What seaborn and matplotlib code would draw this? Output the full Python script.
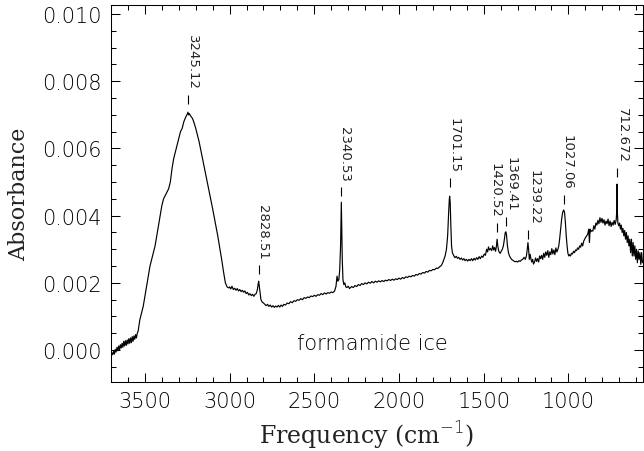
import matplotlib
matplotlib.use("Agg")
import matplotlib.pyplot as plt
import seaborn as sns
import pandas as pd
from matplotlib import font_manager as fm
from matplotlib.ticker import MultipleLocator, FormatStrFormatter

# ---------------- data ----------------
freq = [3700, 3695, 3690, 3685, 3680, 3675, 3670, 3665, 3660, 3655, 3650, 3645, 3640,
        3635, 3630, 3625, 3620, 3615, 3610, 3605, 3600, 3595, 3590, 3585, 3580, 3575,
        3570, 3565, 3560, 3555, 3550, 3545, 3540,
        3530, 3520, 3510, 3500, 3490, 3480, 3470, 3460, 3450, 3440, 3430, 3420, 3410,
        3400, 3390, 3380, 3370, 3360, 3350, 3340, 3330, 3320, 3310, 3300, 3290, 3280,
        3270, 3262, 3255, 3250, 3246, 3242, 3238, 3232, 3226, 3220, 3212, 3200, 3180,
        3160, 3140, 3120, 3100, 3085, 3070, 3060, 3047, 3035, 3025, 3015, 3005,
        3000, 2993, 2986, 2978, 2970, 2962, 2955, 2947, 2940, 2932, 2925, 2917, 2910,
        2902, 2895, 2887, 2880, 2872, 2865, 2857, 2850, 2843, 2836, 2831, 2828.5, 2825,
        2820, 2815, 2808, 2800,
        2792, 2784, 2776, 2768, 2760, 2752, 2744, 2736, 2728, 2720, 2712, 2704, 2696,
        2688, 2680, 2670, 2660, 2650, 2640, 2630, 2620, 2610, 2600, 2590, 2580, 2570,
        2560, 2550, 2540, 2530, 2520, 2510, 2500, 2490, 2480, 2470, 2460, 2450, 2440,
        2430, 2420, 2410, 2400, 2390, 2380, 2372, 2366, 2361, 2355, 2350, 2345, 2342,
        2340.5, 2338, 2335, 2331, 2326, 2320, 2314, 2308, 2300, 2292,
        2280, 2270, 2260, 2250, 2240, 2230, 2220, 2210, 2200, 2190, 2180, 2170, 2160,
        2150, 2140, 2130, 2120, 2110, 2100, 2090, 2080, 2070, 2060, 2050, 2040, 2030,
        2020, 2010, 2000, 1990, 1980, 1970, 1960, 1950, 1940, 1930, 1920, 1910, 1900,
        1890, 1880, 1870, 1860, 1850, 1840, 1830, 1820, 1810, 1800, 1790, 1780, 1770,
        1760, 1750, 1742, 1735, 1728, 1720, 1713, 1707, 1703, 1701, 1698, 1694, 1690,
        1685, 1678, 1670, 1662, 1655, 1648, 1640, 1632, 1625, 1617, 1610, 1602, 1595,
        1587, 1580, 1572, 1565, 1557, 1550, 1542, 1535, 1527, 1520, 1512, 1505, 1497,
        1490, 1483, 1477, 1472, 1466, 1460, 1453, 1447, 1441, 1436, 1430, 1425, 1421,
        1417, 1412, 1407, 1402, 1396, 1390, 1384, 1378, 1373, 1369, 1365, 1360, 1354,
        1348, 1342, 1336, 1330, 1322, 1315, 1308, 1300, 1292, 1285, 1278, 1270, 1262,
        1255, 1248, 1243, 1239, 1235, 1231, 1226, 1221, 1216, 1211, 1206, 1200, 1194,
        1188, 1182, 1176, 1170, 1164, 1158, 1152, 1146, 1140, 1134, 1128, 1122, 1116,
        1110, 1104, 1098, 1092, 1086, 1080, 1074, 1068, 1062, 1057, 1052, 1046, 1040,
        1034, 1028, 1023, 1018, 1013, 1008, 1003, 998, 993, 988, 982, 976, 970, 964,
        958, 952, 946, 940, 934, 928, 922, 916, 910, 904, 898, 892, 886, 880, 876,
        872, 868, 862, 856, 850, 844, 838, 832, 826, 820, 814, 808, 802, 796, 790,
        784, 778, 772, 766, 760, 754, 748, 742, 736, 730, 724, 718, 714, 712.7, 711,
        708, 703, 698, 693, 688, 683, 678, 673, 668, 663, 658, 653, 648, 643, 638,
        633, 628, 623, 618, 613, 608, 603, 598, 593, 588, 583, 578, 573, 568, 563, 560]

absorb = [-0.00018, -0.00008, -0.00014, -0.00004, -0.00012, 0.00002, -0.00006, 0.00008,
          -0.00002, 0.00012, 0.00000, 0.00016, 0.00006, 0.00020, 0.00008, 0.00026,
          0.00012, 0.00028, 0.00014, 0.00030, 0.00018, 0.00034, 0.00020, 0.00036,
          0.00022, 0.00040, 0.00026, 0.00042, 0.00032, 0.00046, 0.00036, 0.00050,
          0.00056,
          0.0009, 0.0011, 0.0013, 0.0016, 0.0019, 0.0022, 0.0025, 0.0027, 0.0029,
          0.0031, 0.0034, 0.0037, 0.0040, 0.0043, 0.0045, 0.0046, 0.0047, 0.0048,
          0.0050, 0.0054, 0.0057, 0.0059, 0.0061, 0.0063, 0.0065, 0.0066, 0.0068,
          0.0069, 0.00698, 0.00702, 0.00708, 0.00700, 0.00704, 0.00698, 0.00694,
          0.0069, 0.0068, 0.0066, 0.0062, 0.0057, 0.0052, 0.0047, 0.0042, 0.0038,
          0.0034, 0.0031, 0.0027, 0.0023, 0.0020, 0.00188, 0.00185,
          0.00188, 0.00182, 0.00190, 0.00180, 0.00184, 0.00178, 0.00183, 0.00176,
          0.00180, 0.00174, 0.00178, 0.00172, 0.00176, 0.00168, 0.00172, 0.00164,
          0.00168, 0.00162, 0.00166, 0.00160, 0.00166, 0.00168, 0.0018, 0.00198,
          0.00205, 0.0019, 0.0017, 0.0015, 0.00143, 0.00140,
          0.00136, 0.00132, 0.00136, 0.00130, 0.00134, 0.00128, 0.00132, 0.00127,
          0.00131, 0.00128, 0.00133, 0.00128, 0.00134, 0.0013, 0.00136, 0.00134,
          0.0014, 0.00138, 0.00144, 0.00141, 0.00147, 0.00145, 0.0015, 0.00148,
          0.00153, 0.0015, 0.00156, 0.00154, 0.00158, 0.00156, 0.00161, 0.00159,
          0.00163, 0.0016, 0.00165, 0.00163, 0.00168, 0.00165, 0.0017, 0.00167,
          0.00171, 0.00169, 0.00173, 0.00171, 0.00176, 0.0019, 0.0022, 0.00205,
          0.0021, 0.0024, 0.0031, 0.0040, 0.0044, 0.0036, 0.0027, 0.0021, 0.00195,
          0.0020, 0.00188, 0.00186, 0.0019, 0.00183,
          0.00189, 0.00186, 0.00192, 0.00189, 0.00195, 0.00192, 0.00198, 0.00195,
          0.0020, 0.00197, 0.00202, 0.00199, 0.00204, 0.0020, 0.00205, 0.00202,
          0.00206, 0.00203, 0.00207, 0.00204, 0.00208, 0.00206, 0.0021, 0.00207,
          0.00211, 0.00208, 0.00212, 0.0021, 0.00214, 0.00211, 0.00216, 0.00213,
          0.00218, 0.00216, 0.0022, 0.00218, 0.00222, 0.0022, 0.00225, 0.00223,
          0.00228, 0.00226, 0.00231, 0.00229, 0.00234, 0.00232, 0.00237, 0.00236,
          0.0024, 0.00239, 0.00244, 0.00243, 0.00248, 0.00252, 0.0026, 0.0027,
          0.0028, 0.0030, 0.0034, 0.0041, 0.0045, 0.00458, 0.0044, 0.0037, 0.0031,
          0.0029, 0.00282, 0.00275, 0.00279, 0.00273, 0.00276, 0.0027, 0.00274,
          0.00268, 0.00272, 0.00266, 0.0027, 0.00265, 0.0027, 0.00266, 0.00272,
          0.00266, 0.00273, 0.00268, 0.00275, 0.0027, 0.00278, 0.00272, 0.0028,
          0.00276, 0.00286, 0.00282, 0.0030, 0.00292, 0.00307, 0.00298, 0.00302,
          0.00296, 0.0031, 0.00298, 0.00305, 0.00294, 0.0031, 0.0033, 0.0031,
          0.00296, 0.0029, 0.00288, 0.00295, 0.0030, 0.0031, 0.0033, 0.0035,
          0.00352, 0.0034, 0.0031, 0.0029, 0.0028, 0.00275, 0.0027, 0.00268,
          0.00265, 0.00263, 0.00264, 0.00262, 0.00266, 0.00264, 0.00268, 0.0027,
          0.00276, 0.0027, 0.0028, 0.0030, 0.0032, 0.0030, 0.0027, 0.00285, 0.0027,
          0.00262, 0.0027, 0.00256, 0.00262, 0.00274, 0.00264, 0.00272, 0.00262,
          0.0028, 0.00272, 0.00282, 0.0027, 0.00288, 0.00276, 0.00292, 0.00282,
          0.00296, 0.00276, 0.00292, 0.00284, 0.00302, 0.00286, 0.00298, 0.00284,
          0.00304, 0.00292, 0.0030, 0.0031, 0.0033, 0.0036, 0.0039, 0.0041, 0.00417,
          0.0041, 0.0038, 0.0034, 0.0031, 0.00288, 0.0028, 0.00284, 0.0028, 0.00288,
          0.00286, 0.00294, 0.0029, 0.00298, 0.00296, 0.00304, 0.0030, 0.0031,
          0.00306, 0.00318, 0.0031, 0.00324, 0.0033, 0.00336, 0.0034, 0.00345,
          0.0036, 0.0032, 0.0036, 0.00352, 0.00356, 0.00354, 0.0037, 0.0036,
          0.00378, 0.00372, 0.00386, 0.00376, 0.00394, 0.0038, 0.00392, 0.00378,
          0.00388, 0.00372, 0.00384, 0.00376, 0.0039, 0.0037, 0.00384, 0.00368,
          0.0038, 0.00372, 0.00386, 0.00374, 0.00388, 0.0042, 0.00494, 0.0041,
          0.00378, 0.0037, 0.00378, 0.0036, 0.00372, 0.0035, 0.00362, 0.0034,
          0.00356, 0.0033, 0.0035, 0.0032, 0.0034, 0.0031, 0.0033, 0.0029, 0.0033,
          0.0028, 0.0032, 0.0028, 0.0031, 0.0027, 0.0030, 0.0026, 0.00295, 0.0027,
          0.0029, 0.00255, 0.0029, 0.0026, 0.00265]

peak_labels = ["3245.12", "2828.51", "2340.53", "1701.15", "1420.52",
               "1369.41", "1239.22", "1027.06", "712.672"]
peak_freq = [3245.12, 2828.51, 2340.53, 1701.15, 1420.52, 1369.41, 1239.22, 1027.06, 712.672]
label_center_freq = [3219, 2805, 2320, 1675, 1432, 1337, 1204, 1006, 680]
label_base_y = [0.00732, 0.00226, 0.00458, 0.00485, 0.00351, 0.00369, 0.0033, 0.00434, 0.00515]

x_ticks = [3500, 3000, 2500, 2000, 1500, 1000]
y_ticks = [0.000, 0.002, 0.004, 0.006, 0.008, 0.010]

# ---------------- fonts ----------------
def _w(v):
    if isinstance(v, str):
        return fm.weight_dict.get(v, 400)
    return v

entries = [(f.name, _w(f.weight)) for f in fm.fontManager.ttflist]
light_name, light_weight = "DejaVu Sans", "normal"
for name, lo, hi in [("DejaVu Sans", 150, 250), ("Open Sans", 250, 350),
                     ("Lato", 250, 350), ("Roboto", 250, 350)]:
    hits = [w for n, w in entries if n == name and lo <= w <= hi]
    if hits:
        light_name, light_weight = name, hits[0]
        break

# ---------------- plot ----------------
sns.set_theme(style="ticks")
plt.rcParams["font.family"] = [light_name, "DejaVu Sans"]
plt.rcParams["font.weight"] = light_weight

df = pd.DataFrame({"Frequency": freq, "Absorbance": absorb})

fig = plt.figure(figsize=(6.44, 4.52), dpi=100)
ax = fig.add_axes([0.1724, 0.1527, 0.8260, 0.8340])

sns.lineplot(data=df, x="Frequency", y="Absorbance", ax=ax, color="black",
             linewidth=0.85, estimator=None, sort=True)

ax.set_xlim(3700, 560)
ax.set_ylim(-0.00095, 0.01027)
ax.set_xticks(x_ticks)
ax.set_yticks(y_ticks)
ax.xaxis.set_minor_locator(MultipleLocator(100))
ax.yaxis.set_minor_locator(MultipleLocator(0.0005))
ax.yaxis.set_major_formatter(FormatStrFormatter("%.3f"))

ax.tick_params(which="both", direction="in", top=True, right=True, color="black",
               width=0.75)
ax.tick_params(which="major", length=6.5, labelsize=15, pad=6.5, labelcolor="black")
ax.tick_params(which="minor", length=3.5)
for sp in ax.spines.values():
    sp.set_linewidth(0.75)
    sp.set_color("black")

ax.set_xlabel("Frequency (cm$^{-1}$)", fontsize=17, family="DejaVu Serif",
              fontweight="normal", color="#222222")
ax.set_ylabel("Absorbance", fontsize=16, family="DejaVu Serif",
              fontweight="normal", color="#222222")
ax.xaxis.set_label_coords(0.48, -0.098)
ax.yaxis.set_label_coords(-0.152, 0.5)

px = 2.976e-5  # one pixel in absorbance units
ax.vlines(peak_freq, [b for b in label_base_y], [b + 9 * px for b in label_base_y],
          color="black", linewidth=0.8)
for lab, fx, fy in zip(peak_labels, label_center_freq, label_base_y):
    ax.text(fx, fy + 15 * px, lab, rotation=270, ha="center", va="bottom",
            fontsize=9.5, color="#222222", family="DejaVu Sans", fontweight="normal")

ax.text(2160, 0.00003, "formamide ice", ha="center", va="baseline", fontsize=15,
        color="black")

fig.savefig("out.png", dpi=100)
